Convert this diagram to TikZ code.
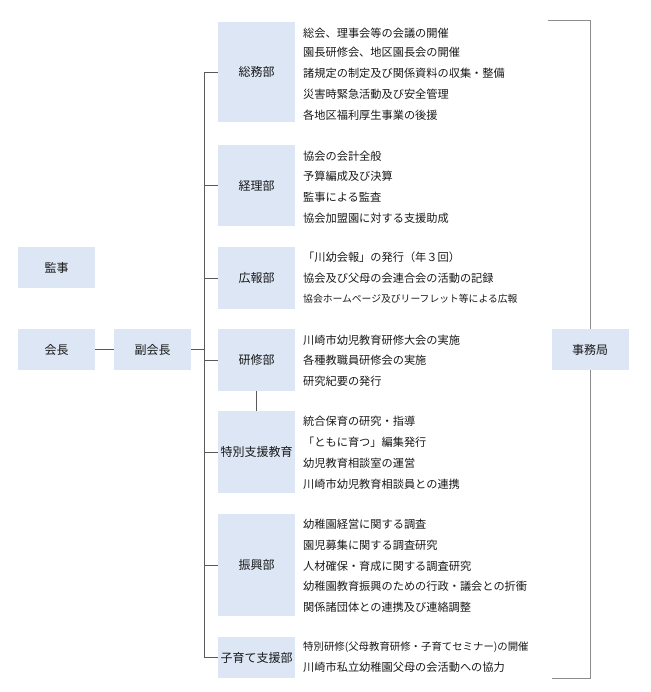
\documentclass[tikz,border=0pt]{standalone}
\usepackage{fontspec}
\setmainfont{Noto Sans CJK JP}
\begin{document}
\begin{tikzpicture}[x=1pt,y=-1pt,
 box/.style={fill=boxc,draw=none,inner sep=0,text=black!90,font=\fontsize{12}{12}\selectfont},
 ln/.style={draw=black!65,line width=0.8pt},
 it/.style={anchor=west,inner sep=0,font=\fontsize{11.2}{12}\selectfont,text=black!90}]
\definecolor{boxc}{HTML}{DCE6F4}
\useasboundingbox (0,0) rectangle (650,692);
\newcommand\bx[5]{\node[box,minimum width=#3,minimum height=#4] (#1) at (#2) {#5};}
% bracket
\coordinate (bt) at (548,20); \coordinate (bb) at (552,678);
\draw[draw=black!45,line width=0.8pt] (bt) -- (590,20) -- (590,678) -- (bb);
\bx{kanji}{56.5,267.5}{77}{41}{監事}
\bx{kaicho}{56.5,349.5}{77}{41}{会長}
\bx{fuku}{152.5,349.5}{77}{41}{副会長}
\bx{jim}{590,349.5}{77}{41}{事務局}
\bx{d1}{256.5,72}{77}{100}{総務部}
\bx{d2}{256.5,185.5}{77}{81}{経理部}
\bx{d3}{256.5,278}{77}{62}{広報部}
\bx{d4}{256.5,360}{77}{62}{研修部}
\bx{d5}{256.5,452}{77}{82}{特別支援教育}
\bx{d6}{256.5,565}{77}{102}{振興部}
\bx{d7}{256.5,657.5}{77}{41}{子育て支援部}
\draw[ln] (kaicho) -- (fuku);
\draw[ln] (fuku.east) -- (204,349.5);
\draw[ln] (d1.west) -- (204,72) -- (204,657.5) -- (d7.west);
\foreach \n in {d2,d3,d4,d5,d6} \draw[ln] (\n.west) -- (\n.west -| 204,0);
\draw[ln] (d4.south) -- (d5.north);
\foreach \y/\t in {33/総会、理事会等の会議の開催,52/園長研修会、地区園長会の開催,73/諸規定の制定及び関係資料の収集・整備,94/災害時緊急活動及び安全管理,115/各地区福利厚生事業の後援,
156/協会の会計全般,176/予算編成及び決算,197/監事による監査,218/協会加盟園に対する支援助成,
257/「川幼会報」の発行（年３回）,278/協会及び父母の会連合会の活動の記録,
340/川崎市幼児教育研修大会の実施,360/各種教職員研修会の実施,381/研究紀要の発行,
421/統合保育の研究・指導,442/「ともに育つ」編集発行,463/幼児教育相談室の運営,484/川崎市幼児教育相談員との連携,
524/幼稚園経営に関する調査,545/園児募集に関する調査研究,566/人材確保・育成に関する調査研究,586/幼稚園教育振興のための行政・議会との折衝,607/関係諸団体との連携及び連絡調整,
667/川崎市私立幼稚園父母の会活動への協力}
 \node[it] at (303,\y) {\t};
\node[it,font=\fontsize{9.8}{10}\selectfont] at (303,299) {協会ホームページ及びリーフレット等による広報};
\node[it,font=\fontsize{10.4}{11}\selectfont] at (303,647) {特別研修(父母教育研修・子育てセミナー)の開催};
\end{tikzpicture}
\end{document}
